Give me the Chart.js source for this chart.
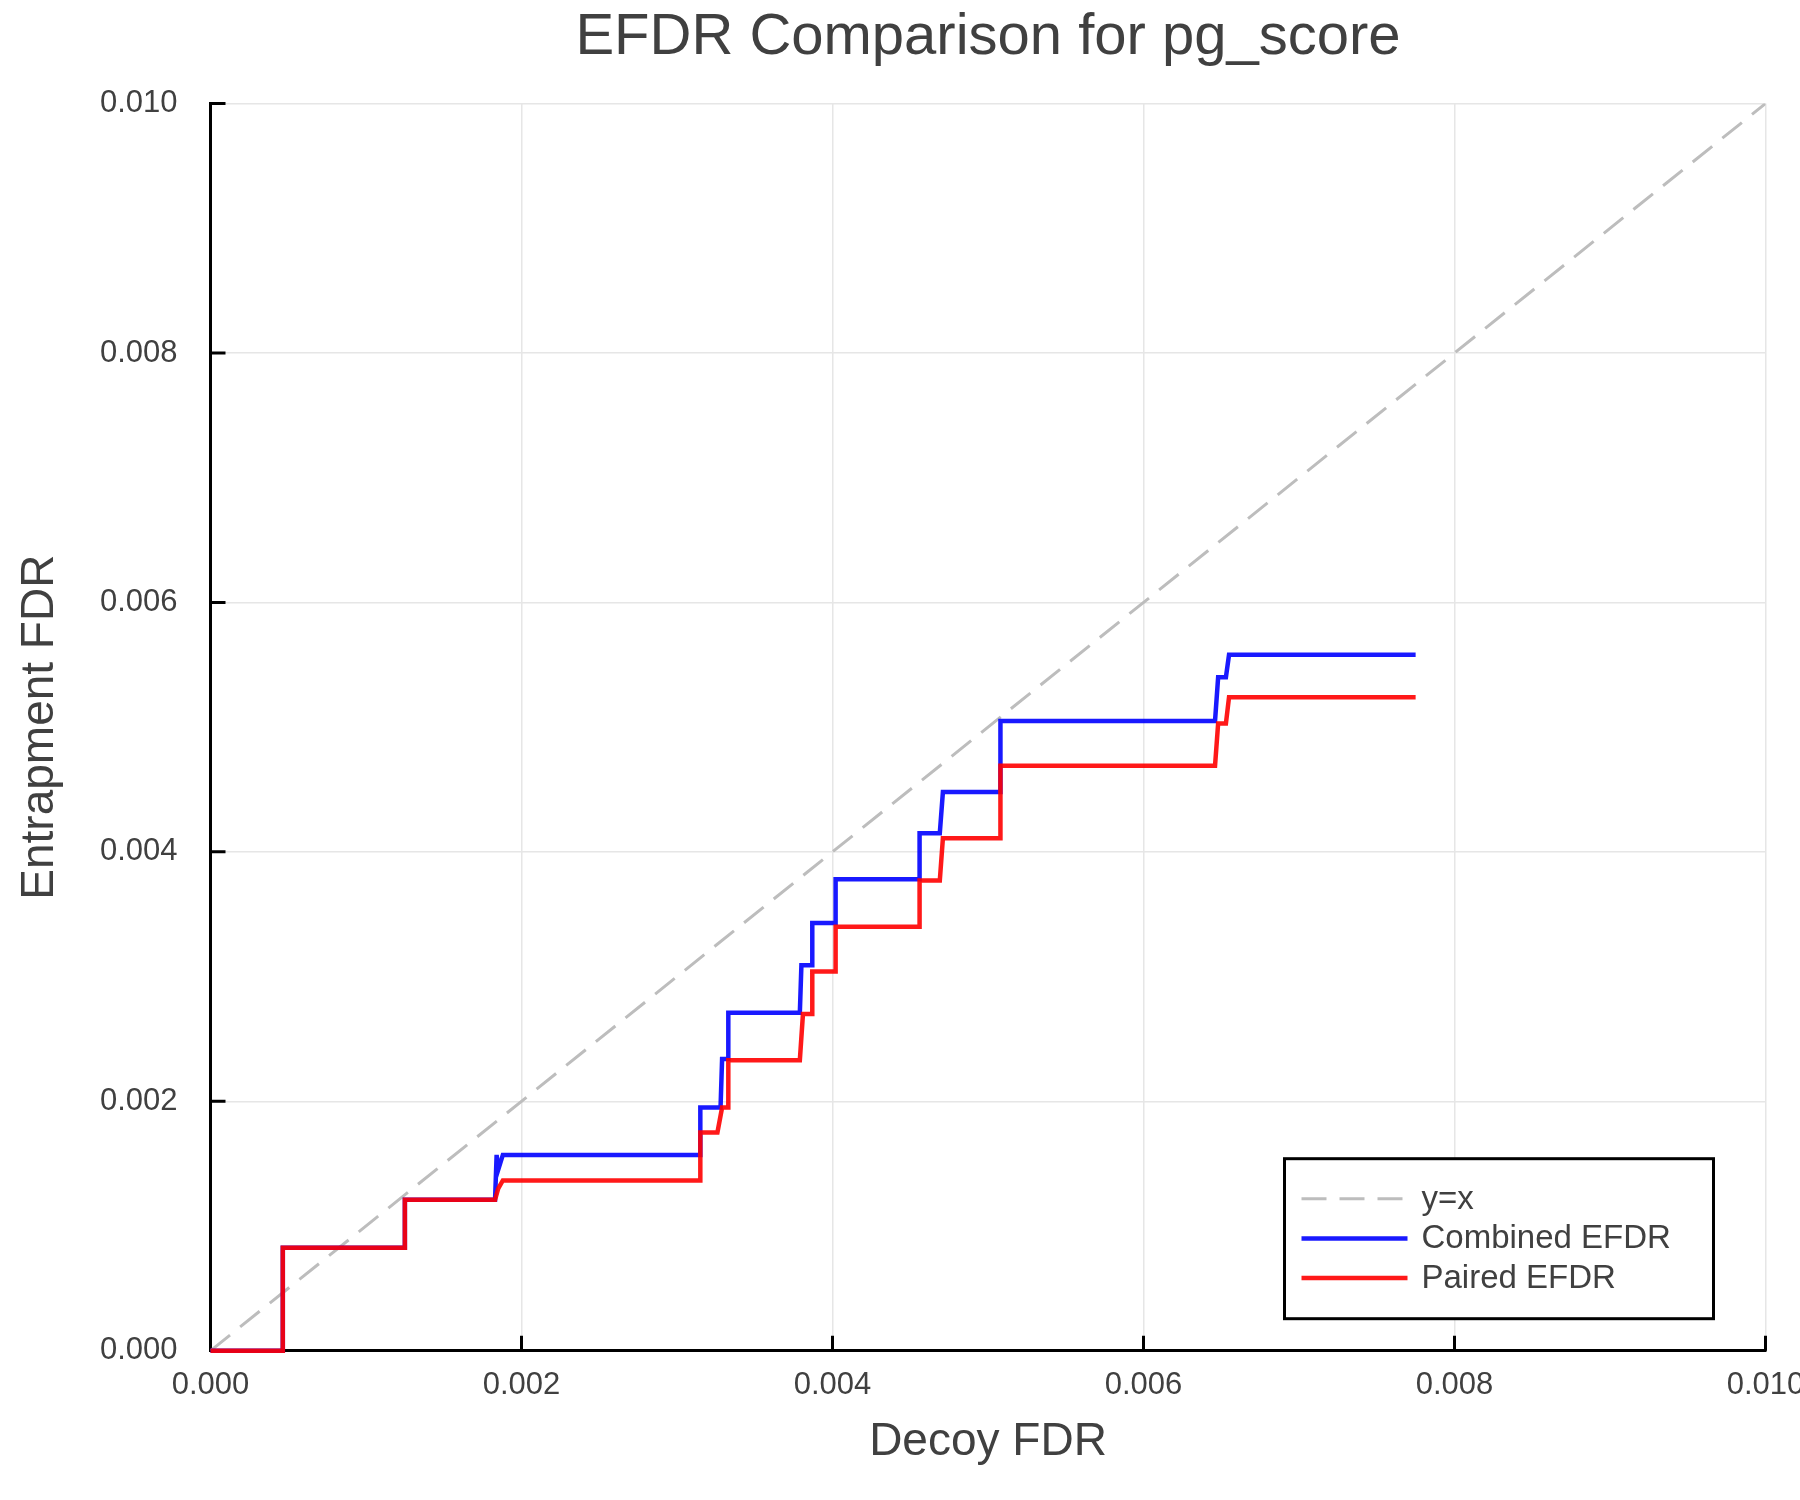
<!DOCTYPE html>
<html>
<head>
<meta charset="utf-8">
<title>EFDR Comparison for pg_score</title>
<script src="https://cdn.jsdelivr.net/npm/chart.js@4.4.1/dist/chart.umd.min.js"></script>
<style>
  html, body { margin: 0; padding: 0; background: #fff; }
  #wrap { width: 1800px; height: 1500px; }
</style>
</head>
<body>
<div id="wrap"><canvas id="efdrChart" width="1800" height="1500"></canvas></div>
<script>
// ---------------------------------------------------------
// data
// ---------------------------------------------------------
const diagX = [0, 0.010];
const diagY = [0, 0.010];

const combinedX = [0, 0.000465, 0.000465, 0.00125, 0.00125, 0.00183, 0.00184, 0.00185, 0.00188, 0.00315,
    0.00315, 0.00328, 0.00329, 0.00333, 0.00333, 0.00379, 0.00380, 0.00387, 0.00387, 0.00402,
    0.00402, 0.00456, 0.00456, 0.00469, 0.00471, 0.00508, 0.00508, 0.00646, 0.00648, 0.00653,
    0.00655, 0.00775];
const combinedY = [0, 0, 0.000825, 0.000825, 0.00121, 0.00121, 0.00157, 0.00145, 0.00157, 0.00157,
    0.00195, 0.00195, 0.00234, 0.00234, 0.00271, 0.00271, 0.00309, 0.00309, 0.00343, 0.00343,
    0.00378, 0.00378, 0.00415, 0.00415, 0.00448, 0.00448, 0.00505, 0.00505, 0.00540, 0.00540,
    0.00558, 0.00558];

const pairedX = [0, 0.000465, 0.000465, 0.00125, 0.00125, 0.00183, 0.00185, 0.00188, 0.00315, 0.00315,
    0.00326, 0.00329, 0.00333, 0.00333, 0.00379, 0.00381, 0.00387, 0.00387, 0.00402, 0.00402,
    0.00456, 0.00456, 0.00469, 0.00471, 0.00508, 0.00508, 0.00646, 0.00648, 0.00653, 0.00655,
    0.00775];
const pairedY = [0, 0, 0.000825, 0.000825, 0.00121, 0.00121, 0.00130, 0.001365, 0.001365, 0.00175,
    0.00175, 0.00195, 0.00195, 0.00233, 0.00233, 0.00270, 0.00270, 0.00304, 0.00304, 0.00340,
    0.00340, 0.00377, 0.00377, 0.00411, 0.00411, 0.00469, 0.00469, 0.00503, 0.00503, 0.00524,
    0.00524];

const tickValues = [0, 0.002, 0.004, 0.006, 0.008, 0.010];
const tickLabels = ['0.000', '0.002', '0.004', '0.006', '0.008', '0.010'];

function toPoints(xs, ys) {
    return xs.map(function (x, i) { return { x: x, y: ys[i] }; });
}

const FONT = '"Liberation Sans", Arial, Helvetica, sans-serif';
const TEXT = '#404040';
Chart.defaults.font.family = FONT;
Chart.defaults.color = TEXT;

// ---------------------------------------------------------
// plugins: centred title, inward ticks, boxed legend
// ---------------------------------------------------------
const centerTitle = {
    id: 'centerTitle',
    afterLayout(chart) {
        if (!chart.titleBlock) return;
        chart.titleBlock.left = chart.chartArea.left;
        chart.titleBlock.right = chart.chartArea.right;
        chart.titleBlock.width = chart.chartArea.right - chart.chartArea.left;
    }
};

const innerTicks = {
    id: 'innerTicks',
    afterDatasetsDraw(chart) {
        const ctx = chart.ctx, a = chart.chartArea;
        const xs = chart.scales.x, ys = chart.scales.y;
        ctx.save();
        ctx.strokeStyle = '#000';
        ctx.lineWidth = 3;
        ctx.beginPath();
        tickValues.forEach(function (v) {
            if (v === 0) return;
            const px = xs.getPixelForValue(v);
            ctx.moveTo(px, a.bottom);
            ctx.lineTo(px, a.bottom - 15);
            const py = ys.getPixelForValue(v);
            ctx.moveTo(a.left, py);
            ctx.lineTo(a.left + 15, py);
        });
        ctx.stroke();
        ctx.restore();
    }
};

const boxLegend = {
    id: 'boxLegend',
    afterDraw(chart) {
        const ctx = chart.ctx, a = chart.chartArea;
        const w = 429, h = 160;
        const left = a.right - 52 - w, top = a.bottom - 32 - h;
        ctx.save();
        ctx.fillStyle = '#fff';
        ctx.fillRect(left, top, w, h);
        ctx.lineWidth = 3;
        ctx.strokeStyle = '#000';
        ctx.strokeRect(left, top, w, h);
        ctx.font = '33px ' + FONT;
        ctx.textBaseline = 'middle';
        chart.data.datasets.forEach(function (ds, i) {
            const y = top + 40 + i * 39.7;
            ctx.strokeStyle = ds.borderColor;
            ctx.lineWidth = ds.borderWidth;
            ctx.setLineDash(ds.borderDash || []);
            ctx.beginPath();
            ctx.moveTo(left + 17, y);
            ctx.lineTo(left + 123, y);
            ctx.stroke();
            ctx.setLineDash([]);
            ctx.fillStyle = TEXT;
            ctx.fillText(ds.label, left + 137, y + 1);
        });
        ctx.restore();
    }
};

// ---------------------------------------------------------
// chart
// ---------------------------------------------------------
const gridOpts = { color: '#e6e6e6', lineWidth: 1.5, drawTicks: false };
const borderOpts = { display: true, color: '#000', width: 3 };

new Chart(document.getElementById('efdrChart'), {
    type: 'scatter',
    data: {
        datasets: [{
            label: 'y=x',
            data: toPoints(diagX, diagY),
            showLine: true,
            borderColor: '#bdbdbd',
            borderWidth: 3,
            borderDash: [25, 13],
            pointRadius: 0,
            order: 3
        }, {
            label: 'Combined EFDR',
            data: toPoints(combinedX, combinedY),
            showLine: true,
            borderColor: 'rgba(0, 0, 255, 0.9)',
            borderWidth: 4.5,
            pointRadius: 0,
            clip: false,
            order: 2
        }, {
            label: 'Paired EFDR',
            data: toPoints(pairedX, pairedY),
            showLine: true,
            borderColor: 'rgba(255, 0, 0, 0.9)',
            borderWidth: 4.5,
            pointRadius: 0,
            clip: false,
            order: 1
        }]
    },
    options: {
        responsive: false,
        devicePixelRatio: 1,
        animation: false,
        layout: { padding: { top: 0, left: 0, right: 34.5, bottom: 0 } },
        plugins: {
            legend: { display: false },
            tooltip: { enabled: false },
            title: {
                display: true,
                text: 'EFDR Comparison for pg_score',
                color: TEXT,
                font: { size: 58, weight: 'normal' },
                padding: { top: 3, bottom: 31 }
            }
        },
        scales: {
            x: {
                type: 'linear',
                min: 0,
                max: 0.010,
                grid: gridOpts,
                border: borderOpts,
                afterBuildTicks(scale) {
                    scale.ticks = tickValues.map(function (v) { return { value: v }; });
                },
                ticks: {
                    font: { size: 31 },
                    color: TEXT,
                    padding: 16,
                    maxRotation: 0,
                    callback: function (v, i) { return tickLabels[i]; }
                },
                title: {
                    display: true,
                    text: 'Decoy FDR',
                    color: TEXT,
                    font: { size: 46 },
                    padding: { top: 0, bottom: 30 }
                },
                afterFit(scale) {
                    scale.height = 149.3;
                    scale.paddingLeft = 0;
                    scale.paddingRight = 0;
                }
            },
            y: {
                type: 'linear',
                min: 0,
                max: 0.010,
                grid: gridOpts,
                border: borderOpts,
                afterBuildTicks(scale) {
                    scale.ticks = tickValues.map(function (v) { return { value: v }; });
                },
                ticks: {
                    font: { size: 31 },
                    color: TEXT,
                    padding: 33,
                    callback: function (v, i) { return tickLabels[i]; }
                },
                title: {
                    display: true,
                    text: 'Entrapment FDR',
                    color: TEXT,
                    font: { size: 46 },
                    padding: { top: 13, bottom: 0 }
                },
                afterFit(scale) {
                    scale.width = 210.5;
                    scale.paddingTop = 0;
                    scale.paddingBottom = 0;
                }
            }
        }
    },
    plugins: [centerTitle, innerTicks, boxLegend]
});
</script>
</body>
</html>
